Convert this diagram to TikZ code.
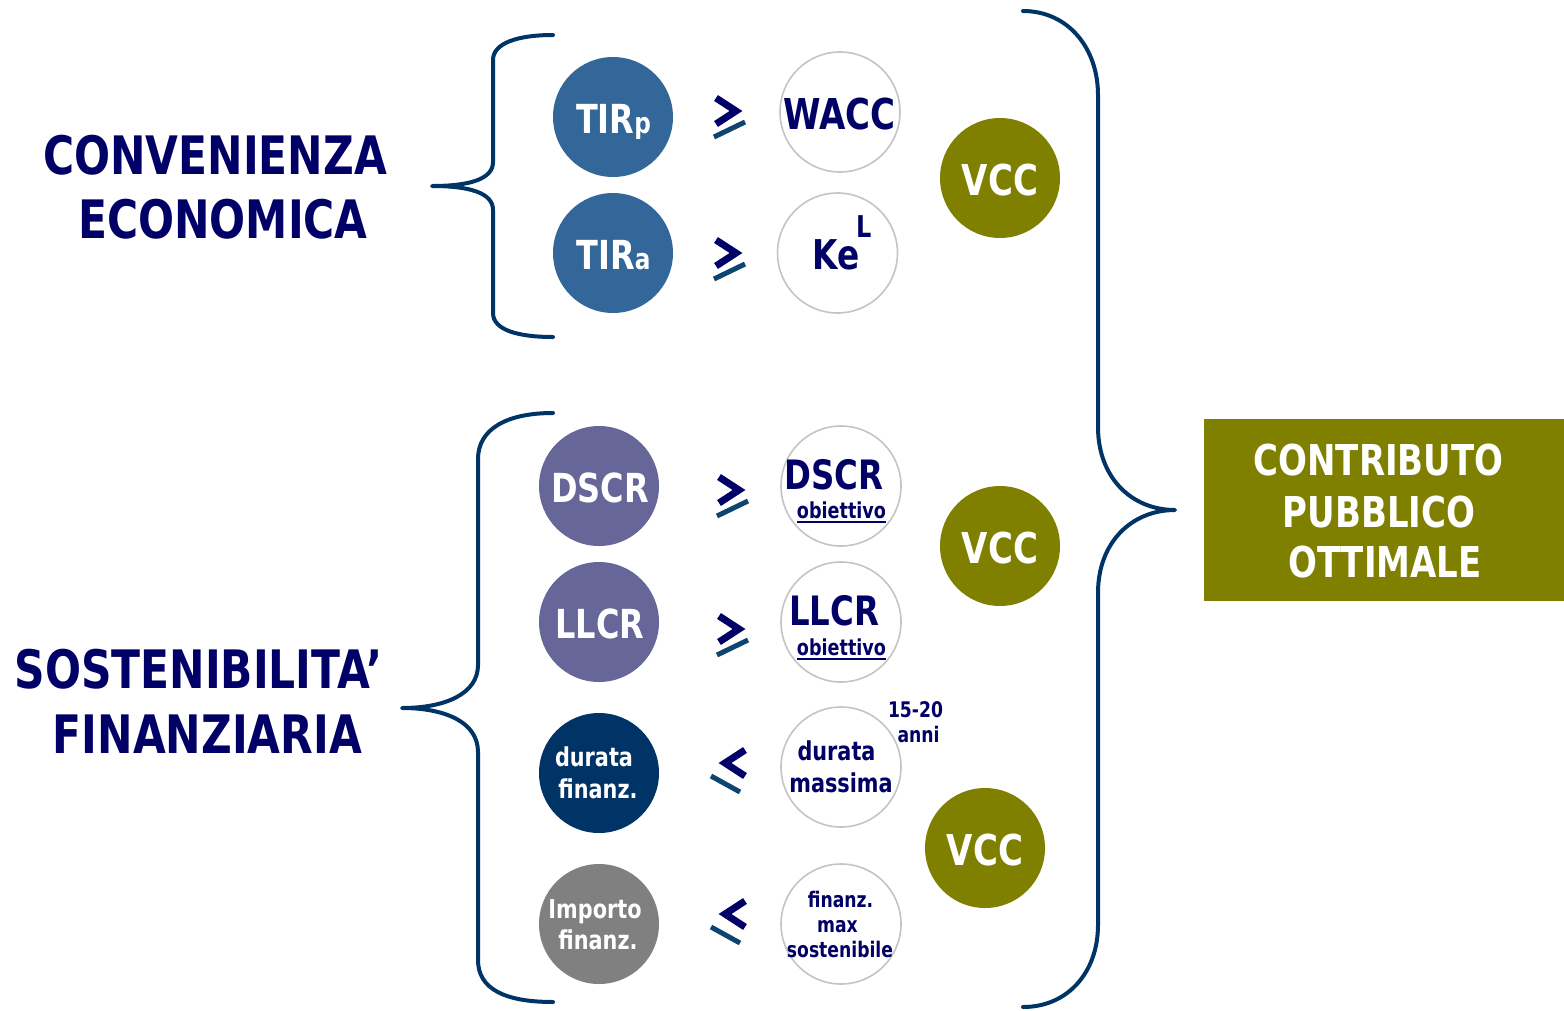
\documentclass[tikz,border=0pt]{standalone}
\usepackage{fontspec}
\setmainfont{DejaVu Sans}[FakeStretch=0.8]
\definecolor{navytext}{HTML}{000066}
\definecolor{bracecol}{HTML}{003366}
\definecolor{barcol}{HTML}{0E4470}
\definecolor{tirblue}{HTML}{336699}
\definecolor{ratio}{HTML}{666699}
\definecolor{durblue}{HTML}{003366}
\definecolor{midgray}{HTML}{808080}
\definecolor{olivegreen}{HTML}{808000}
\definecolor{ringgray}{HTML}{C4C4C4}
\tikzset{
  disc/.style={circle, fill=#1, minimum size=120pt, inner sep=0pt},
  ring/.style={circle, draw=ringgray, line width=1.6pt, fill=white, minimum size=120pt, inner sep=0pt},
  txt/.style={anchor=base, inner sep=0pt, font=\bfseries\fontsize{#1}{#1}\selectfont},
  wt/.style={txt=#1, text=white},
  nt/.style={txt=#1, text=navytext},
  brace/.style={draw=bracecol, line width=4pt, line cap=round, line join=round},
  chev/.style={draw=navytext, line width=7pt},
  slantbar/.style={draw=barcol, line width=5pt},
  geqsym/.pic={\draw[chev] (-12,-13) -- (8,0) -- (-12,13);
               \draw[slantbar] (-14,26) -- (17,11);},
  leqsym/.pic={\draw[chev] (14,-13) -- (-6,0) -- (14,13);
               \draw[slantbar] (-20,13) -- (9,29);},
}
\begin{document}
\begin{tikzpicture}[x=1pt, y=-1pt]
\useasboundingbox (0,0) rectangle (1564,1010);

% left headings
\node[nt=53] (conv1) at (215,174) {CONVENIENZA};
\node[nt=53] (conv2) at (223,238) {ECONOMICA};
\node[nt=53] (sost1) at (198.5,688) {SOSTENIBILITA’};
\node[nt=53] (sost2) at (207.5,753) {FINANZIARIA};

% braces
\draw[brace] (553,35) .. controls (518,35) and (493,43) .. (493,60)
  -- (493,162) .. controls (493,179) and (470,186) .. (432,186)
  .. controls (470,186) and (493,193) .. (493,210)
  -- (493,313) .. controls (493,330) and (518,337) .. (553,337);
\draw[brace] (553,413) .. controls (505,413) and (478,430) .. (478,459)
  -- (478,665) .. controls (478,694) and (445,708) .. (402,708)
  .. controls (445,708) and (478,722) .. (478,752)
  -- (478,960) .. controls (478,989) and (505,1002) .. (553,1002);
\draw[brace] (1023,11) .. controls (1068,11) and (1098,48) .. (1098,95)
  -- (1098,427) .. controls (1098,478) and (1132,510) .. (1175,510)
  .. controls (1132,510) and (1098,542) .. (1098,593)
  -- (1098,925) .. controls (1098,972) and (1068,1007) .. (1023,1007);

% indicators
\node[disc=tirblue] (tirp) at (613,117) {};
\node[disc=tirblue] (tira) at (613,253) {};
\node[disc=ratio] (dscr) at (599,486) {};
\node[disc=ratio] (llcr) at (599,622) {};
\node[disc=durblue] (dur) at (599,773) {};
\node[disc=midgray] (imp) at (599,924) {};

\node[wt=40] (tirpT) at (613.5,133) {TIR{\fontsize{29}{29}\selectfont p}};
\node[wt=40] (tiraT) at (613.5,269) {TIR{\fontsize{29}{29}\selectfont a}};
\node[wt=40] (dscrT) at (600,502) {DSCR};
\node[wt=40] (llcrT) at (600,638) {LLCR};
\node[wt=26] (durT1) at (594,766) {durata};
\node[wt=26] (durT2) at (598,798) {finanz.};
\node[wt=26] (impT1) at (595,918) {Importo};
\node[wt=26] (impT2) at (598,949) {finanz.};

% thresholds
\node[ring] (wacc) at (840,112) {};
\node[ring] (ke) at (837.5,253) {};
\node[ring] (dscro) at (841,486) {};
\node[ring] (llcro) at (841,622) {};
\node[ring] (durm) at (841,767) {};
\node[ring] (fmax) at (841,924) {};

\node[nt=42.5] (waccT) at (839.5,129) {WACC};
\node[nt=41] (keT) at (836.5,269) {Ke};
\node[nt=30, anchor=base west] (keL) at (856,237) {L};
\node[nt=40.5] (dscroT) at (834,489) {DSCR};
\node[nt=22] (dscroS) at (841.5,518) {obiettivo};
\draw[navytext, line width=1.6pt] ([yshift=-4pt]dscroS.base west) -- ([yshift=-4pt]dscroS.base east);
\node[nt=40.5] (llcroT) at (834,625) {LLCR};
\node[nt=22] (llcroS) at (841.5,655) {obiettivo};
\draw[navytext, line width=1.6pt] ([yshift=-4pt]llcroS.base west) -- ([yshift=-4pt]llcroS.base east);
\node[nt=26] (durmT1) at (836.5,760) {durata};
\node[nt=26] (durmT2) at (841,792) {massima};
\node[nt=21.5] (yrs1) at (915.5,717) {15-20};
\node[nt=21.5] (yrs2) at (918.5,742) {anni};
\node[nt=21.5] (fmaxT1) at (840.5,907) {finanz.};
\node[nt=21.5] (fmaxT2) at (837.5,932) {max};
\node[nt=21.5] (fmaxT3) at (840,957) {sostenibile};

% comparison signs
\pic at (728,111) {geqsym};
\pic at (728,253) {geqsym};
\pic at (731,490) {geqsym};
\pic at (731,629) {geqsym};
\pic at (731,763) {leqsym};
\pic at (731,914) {leqsym};

% VCC
\node[disc=olivegreen] (vcc1) at (1000,178) {};
\node[disc=olivegreen] (vcc2) at (1000,546) {};
\node[disc=olivegreen] (vcc3) at (985,848) {};
\node[wt=42.5] (vcc1T) at (1000,195) {VCC};
\node[wt=42.5] (vcc2T) at (1000,563) {VCC};
\node[wt=42.5] (vcc3T) at (985,865) {VCC};

% result
\node[fill=olivegreen, anchor=north west, minimum width=360pt, minimum height=182pt, inner sep=0pt] (result) at (1204,419) {};
\node[wt=42.5] (res1) at (1378.5,475) {CONTRIBUTO};
\node[wt=42.5] (res2) at (1379,527) {PUBBLICO};
\node[wt=42.5] (res3) at (1385,577) {OTTIMALE};
\end{tikzpicture}
\end{document}
